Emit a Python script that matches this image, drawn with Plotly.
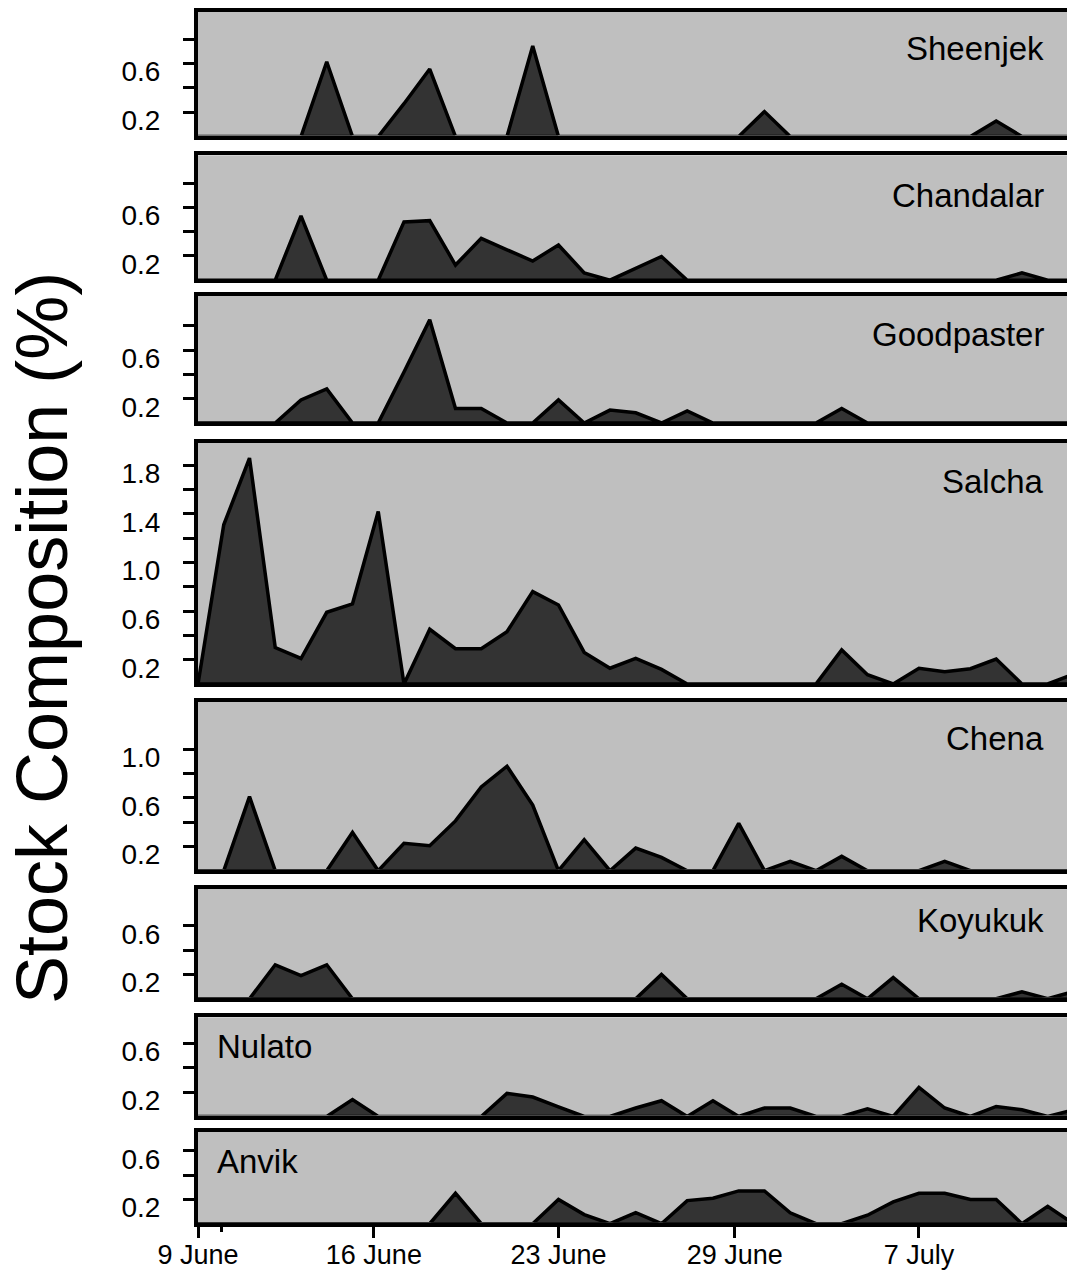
import plotly.graph_objects as go

# ---------------- data (sample index 0..34) ----------------
sample_index = list(range(35))

stock_names = ["Sheenjek", "Chandalar", "Goodpaster", "Salcha",
               "Chena", "Koyukuk", "Nulato", "Anvik"]

sheenjek = [0, 0, 0, 0, 0, 0.615, 0, 0, 0.27, 0.555, 0, 0, 0, 0.745, 0, 0, 0, 0,
            0, 0, 0, 0, 0.205, 0, 0, 0, 0, 0, 0, 0, 0, 0.127, 0, 0, 0]
chandalar = [0, 0, 0, 0, 0.53, 0, 0, 0, 0.48, 0.49, 0.125, 0.344, 0.25, 0.158, 0.29,
             0.06, 0, 0.10, 0.195, 0, 0, 0, 0, 0, 0, 0, 0, 0, 0, 0, 0, 0, 0.06, 0, 0]
goodpaster = [0, 0, 0, 0, 0.19, 0.28, 0, 0, 0.42, 0.85, 0.12, 0.12, 0, 0, 0.19, 0,
              0.106, 0.084, 0, 0.10, 0, 0, 0, 0, 0, 0.12, 0, 0, 0, 0, 0, 0, 0, 0, 0]
salcha = [0, 1.31, 1.86, 0.30, 0.21, 0.59, 0.66, 1.42, 0, 0.45, 0.29, 0.29, 0.43,
          0.76, 0.65, 0.26, 0.13, 0.21, 0.12, 0, 0, 0, 0, 0, 0, 0.28, 0.077, 0,
          0.13, 0.10, 0.126, 0.205, 0, 0, 0.08]
chena = [0, 0, 0.61, 0, 0, 0, 0.315, 0, 0.225, 0.205, 0.41, 0.69, 0.86, 0.54, 0,
         0.255, 0, 0.186, 0.11, 0, 0, 0.39, 0, 0.077, 0, 0.118, 0, 0, 0, 0.077, 0,
         0, 0, 0, 0]
koyukuk = [0, 0, 0, 0.28, 0.19, 0.28, 0, 0, 0, 0, 0, 0, 0, 0, 0, 0, 0, 0, 0.20, 0,
           0, 0, 0, 0, 0, 0.12, 0, 0.175, 0, 0, 0, 0, 0.058, 0, 0.06]
nulato = [0, 0, 0, 0, 0, 0, 0.14, 0, 0, 0, 0, 0, 0.19, 0.16, 0.08, 0, 0, 0.07, 0.13,
          0, 0.13, 0, 0.07, 0.07, 0, 0, 0.064, 0, 0.24, 0.07, 0, 0.083, 0.055, 0,
          0.055]
anvik = [0, 0, 0, 0, 0, 0, 0, 0, 0, 0, 0.25, 0, 0, 0, 0.20, 0.075, 0, 0.09, 0,
         0.19, 0.21, 0.27, 0.27, 0.09, 0, 0, 0.07, 0.18, 0.25, 0.25, 0.20, 0.20, 0,
         0.143, 0]

x_tick_vals = [0, 6.83, 14.0, 20.85, 28.0]
x_tick_text = ["9 June", "16 June", "23 June", "29 June", "7 July"]
x_minor_ticks = [0.92]

y_tick_tops = [0.8, 0.8, 0.8, 1.8, 1.0, 0.6, 0.6, 0.6]

series = [sheenjek, chandalar, goodpaster, salcha, chena, koyukuk, nulato, anvik]

# ---------------- layout geometry (pixels) ----------------
W, H = 1067, 1272
X_LEFT = 198.0
X_MAX = 33.75
SCALE = 121.5          # px per unit on every panel
BORDER = 4
# border centre lines (top, bottom) of each panel
panel_px = [(9.5, 137.5), (153.3, 281.2), (293.7, 424.0), (441.0, 685.0),
            (699.5, 871.7), (886.7, 999.8), (1015.3, 1117.5), (1129.5, 1224.7)]
label_pos = [(1046, 48.4, "right"), (1046, 196.0, "right"), (1046, 334.0, "right"),
             (1046, 481.3, "right"), (1046, 738.7, "right"), (1046, 920.8, "right"),
             (214.5, 1046.0, "left"), (214.5, 1161.0, "left")]

BG = "#BFBFBF"
FILL = "#333333"
FONT = "Liberation Sans, Arial, Helvetica, sans-serif"

fig = go.Figure()
layout = dict(
    width=W, height=H,
    margin=dict(l=0, r=0, t=0, b=0, autoexpand=False),
    paper_bgcolor="white",
    plot_bgcolor=BG,
    showlegend=False,
    font=dict(family=FONT, color="black"),
    annotations=[],
)

for k, (name, vals) in enumerate(zip(stock_names, series)):
    n = k + 1
    xa = "x" if n == 1 else f"x{n}"
    ya = "y" if n == 1 else f"y{n}"
    top_c, bot_c = panel_px[k]
    t_in = top_c + BORDER / 2
    b_in = bot_c - BORDER / 2
    zero_px = b_in + 1.0
    ymin = -(b_in - zero_px) / SCALE
    ymax = (zero_px - t_in) / SCALE

    xs = sample_index + [sample_index[-1], sample_index[0]]
    ys = list(vals) + [0, 0]
    fig.add_trace(go.Scatter(
        x=xs, y=ys, xaxis=xa, yaxis=ya, mode="lines",
        fill="toself", fillcolor=FILL,
        line=dict(color="black", width=3.5),
        hoverinfo="skip",
    ))

    is_bottom = (k == len(series) - 1)
    xaxis = dict(
        domain=[X_LEFT / W, 1.0], range=[0, X_MAX], anchor=ya,
        showline=True, mirror=True, linewidth=BORDER, linecolor="black",
        showgrid=False, zeroline=False, fixedrange=True, automargin=False,
    )
    if is_bottom:
        xaxis.update(
            tickmode="array", tickvals=x_tick_vals, ticktext=x_tick_text,
            ticks="outside", ticklen=11, tickwidth=3, tickcolor="black",
            tickfont=dict(size=27, family=FONT, color="black"),
            ticklabelstandoff=-6,
            minor=dict(tickmode="array", tickvals=x_minor_ticks, ticks="outside",
                       ticklen=5, tickwidth=3, tickcolor="black", showgrid=False),
        )
    else:
        xaxis.update(showticklabels=False, ticks="")

    tv = []
    tt = []
    v = 0.2
    i = 0
    while v <= y_tick_tops[k] + 1e-9:
        tv.append(round(v, 1))
        tt.append(f"{v:.1f}" if i % 2 == 0 else "")
        v += 0.2
        i += 1
    yaxis = dict(
        domain=[1 - b_in / H, 1 - t_in / H], range=[ymin, ymax], anchor=xa,
        showline=True, mirror=False, linewidth=BORDER, linecolor="black",
        showgrid=False, zeroline=False, fixedrange=True, automargin=False,
        tickmode="array", tickvals=tv, ticktext=tt,
        ticks="outside", ticklen=11, tickwidth=3, tickcolor="black",
        tickfont=dict(size=28, family=FONT, color="black"),
        ticklabelstandoff=17, ticklabelshift=8,
    )
    layout["xaxis" if n == 1 else f"xaxis{n}"] = xaxis
    layout["yaxis" if n == 1 else f"yaxis{n}"] = yaxis

    lx, ly, anchor = label_pos[k]
    layout["annotations"].append(dict(
        text=name, xref="paper", yref="paper", x=lx / W, y=1 - ly / H,
        xanchor=anchor, yanchor="middle", showarrow=False,
        font=dict(size=33, family=FONT, color="black"),
    ))

layout["annotations"].append(dict(
    text="Stock Composition (%)", xref="paper", yref="paper",
    x=42 / W, y=1 - 638 / H, xanchor="center", yanchor="middle",
    textangle=-90, showarrow=False,
    font=dict(size=72, family=FONT, color="black"),
))

fig.update_layout(**layout)
fig.write_html("out.html")
